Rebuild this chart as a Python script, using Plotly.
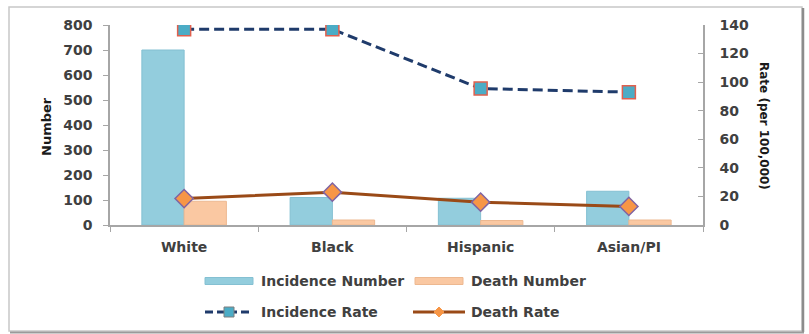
import plotly.graph_objects as go

# Data
categories = ["White", "Black", "Hispanic", "Asian/PI"]
incidence_number = [700, 110, 107, 135]
death_number = [95, 20, 18, 20]
incidence_rate = [137, 137, 95.5, 93]
death_rate = [18.5, 23, 16, 13]
legend_labels = ["Incidence Number", "Death Number", "Incidence Rate", "Death Rate"]
left_ticks = [0, 100, 200, 300, 400, 500, 600, 700, 800]
right_ticks = [0, 20, 40, 60, 80, 100, 120, 140]

W, H = 809, 334
L, R, T, B = 110, 106, 25, 109
PW, PH = W - L - R, H - T - B

C_INC_BAR = "#93CDDD"
C_DEATH_BAR = "#FAC8A2"
C_INC_LINE = "#1F3B6B"
C_SQ_FILL = "#4BACC6"
C_SQ_EDGE = "#E0604E"
C_DEATH_LINE = "#9A4A17"
C_DIA_FILL = "#F79646"
C_DIA_EDGE = "#8064A2"
TXT = "#404040"
FONT = "DejaVu Sans"


def px(x):
    return (x - L) / PW


def py(y):
    return (H - B - y) / PH


fig = go.Figure()
fig.add_trace(go.Bar(x=categories, y=incidence_number, name=legend_labels[0],
                     marker=dict(color=C_INC_BAR, line=dict(color="#84C0D2", width=1))))
fig.add_trace(go.Bar(x=categories, y=death_number, name=legend_labels[1],
                     marker=dict(color=C_DEATH_BAR, line=dict(color="#EDB890", width=1))))
fig.add_trace(go.Scatter(x=categories, y=incidence_rate, name=legend_labels[2], yaxis="y2",
                         mode="lines+markers",
                         line=dict(color=C_INC_LINE, width=3, dash="10px,5px"),
                         marker=dict(symbol="square", size=13, color=C_SQ_FILL,
                                     line=dict(color=C_SQ_EDGE, width=1.5))))
fig.add_trace(go.Scatter(x=categories, y=death_rate, name=legend_labels[3], yaxis="y2",
                         mode="lines+markers",
                         line=dict(color=C_DEATH_LINE, width=3),
                         marker=dict(symbol="diamond", size=14, color=C_DIA_FILL,
                                     line=dict(color=C_DIA_EDGE, width=1.5))))

axis_font = dict(family=FONT, size=14, color=TXT, weight="bold")

shapes = []
annotations = []

# outer frame with a soft shadow on the right and bottom
shapes.append(dict(type="rect", xref="paper", yref="paper",
                   x0=px(9), x1=px(802), y0=py(331), y1=py(7),
                   line=dict(color="#C8C8C8", width=1.5), layer="below"))
shapes.append(dict(type="line", xref="paper", yref="paper",
                   x0=px(803), x1=px(803), y0=py(332), y1=py(8),
                   line=dict(color="#8C8C8C", width=2.5)))
shapes.append(dict(type="line", xref="paper", yref="paper",
                   x0=px(10), x1=px(804), y0=py(332.5), y1=py(332.5),
                   line=dict(color="#9A9A9A", width=2)))

# legend
row1, row2 = 281, 312
sw = [(205, 253, C_INC_BAR, "#84C0D2"), (415, 463, C_DEATH_BAR, "#EDB890")]
for (x0, x1, fc, lc) in sw:
    shapes.append(dict(type="rect", xref="paper", yref="paper",
                       x0=px(x0), x1=px(x1), y0=py(row1 + 3.5), y1=py(row1 - 3.5),
                       fillcolor=fc, line=dict(color=lc, width=1)))
shapes.append(dict(type="line", xref="paper", yref="paper",
                   x0=px(205), x1=px(253), y0=py(row2), y1=py(row2),
                   line=dict(color=C_INC_LINE, width=3, dash="8px,4px")))
shapes.append(dict(type="rect", xref="paper", yref="paper",
                   x0=px(224), x1=px(234), y0=py(row2 + 5), y1=py(row2 - 5),
                   fillcolor=C_SQ_FILL, line=dict(color="#7F7F7F", width=1)))
shapes.append(dict(type="line", xref="paper", yref="paper",
                   x0=px(413), x1=px(465), y0=py(row2), y1=py(row2),
                   line=dict(color=C_DEATH_LINE, width=3)))
cx, cy, r = 439, row2, 5
shapes.append(dict(type="path", xref="paper", yref="paper",
                   path=f"M {px(cx - r)},{py(cy)} L {px(cx)},{py(cy - r)} L {px(cx + r)},{py(cy)} L {px(cx)},{py(cy + r)} Z",
                   fillcolor=C_DIA_FILL, line=dict(color=C_DIA_FILL, width=1)))

for label, x, y in [(legend_labels[0], 259, row1), (legend_labels[1], 469, row1),
                    (legend_labels[2], 259, row2), (legend_labels[3], 469, row2)]:
    annotations.append(dict(text=label, xref="paper", yref="paper", x=px(x), y=py(y),
                            xanchor="left", yanchor="middle", showarrow=False,
                            font=dict(family=FONT, size=14, color=TXT, weight="bold")))

# axis titles
annotations.append(dict(text="Number", xref="paper", yref="paper", x=px(46), y=py(127),
                        textangle=-90, showarrow=False, xanchor="center", yanchor="middle",
                        font=dict(family=FONT, size=13, color="#1A1A1A", weight="bold")))
annotations.append(dict(text="Rate (per 100,000)", xref="paper", yref="paper", x=px(764), y=py(126),
                        textangle=90, showarrow=False, xanchor="center", yanchor="middle",
                        font=dict(family=FONT, size=12, color="#1A1A1A", weight="bold")))

fig.update_layout(
    width=W, height=H,
    margin=dict(l=L, r=R, t=T, b=B),
    paper_bgcolor="white", plot_bgcolor="white",
    barmode="group", bargap=0.43, bargroupgap=0,
    showlegend=False,
    shapes=shapes, annotations=annotations,
    xaxis=dict(showline=True, linecolor="#A6A6A6", linewidth=1.5,
               ticks="outside", tickson="boundaries", ticklen=5, tickcolor="#A6A6A6",
               tickfont=axis_font, ticklabelstandoff=8, showgrid=False, zeroline=False),
    yaxis=dict(range=[0, 800], tickvals=left_ticks, showline=True, linecolor="#A6A6A6",
               linewidth=1.5, ticks="outside", ticklen=5, tickcolor="#A6A6A6",
               tickfont=axis_font, ticklabelstandoff=8, showgrid=False, zeroline=False),
    yaxis2=dict(range=[0, 140], tickvals=right_ticks, overlaying="y", side="right",
                showline=True, linecolor="#A6A6A6", linewidth=1.5,
                ticks="inside", ticklen=5, tickcolor="#A6A6A6",
                tickfont=axis_font, ticklabelstandoff=12, showgrid=False, zeroline=False),
)

fig.write_html("out.html")
